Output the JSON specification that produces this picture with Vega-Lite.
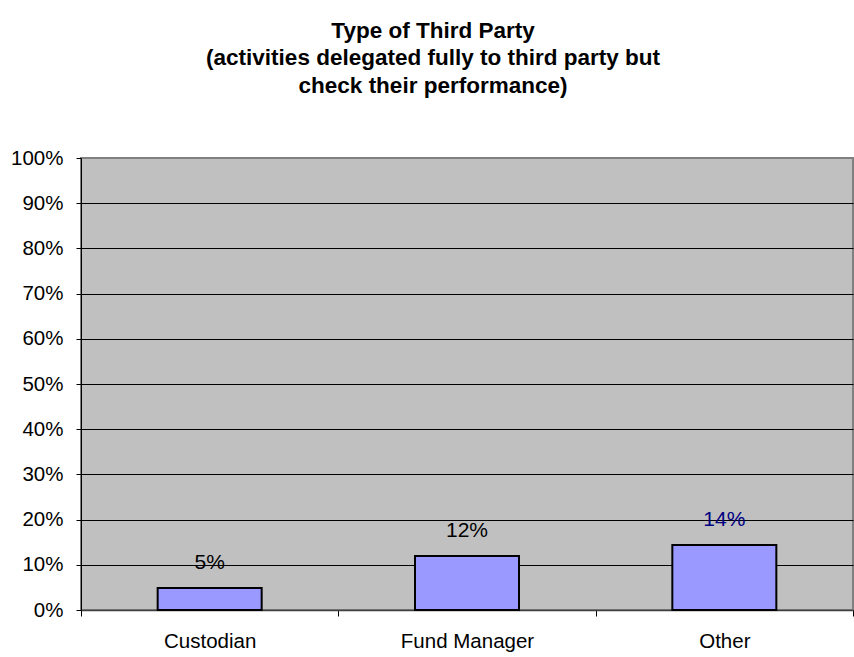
{
  "$schema": "https://vega.github.io/schema/vega-lite/v6.json",
  "autosize": "none",
  "width": 772,
  "height": 452,
  "padding": {"left": 81, "top": 158, "right": 1, "bottom": 47},
  "background": "#ffffff",
  "title": {
    "text": ["Type of Third Party", "(activities delegated fully to third party but", "check their performance)"],
    "font": "Liberation Sans",
    "fontSize": 22.5,
    "fontWeight": "bold",
    "color": "#000000",
    "anchor": "middle",
    "dx": -34,
    "offset": 51,
    "lineHeight": 27.5
  },
  "config": {
    "view": {"fill": "#C0C0C0", "stroke": "#808080", "strokeWidth": 2},
    "axis": {
      "labelFont": "Liberation Sans",
      "labelFontSize": 20.5,
      "labelColor": "#000000",
      "tickColor": "#000000",
      "domainColor": "#000000",
      "titleFont": "Liberation Sans"
    }
  },
  "data": {
    "values": [
      {"category": "Custodian", "value": 0.0487, "label": "5%", "labelColor": "black"},
      {"category": "Fund Manager", "value": 0.1195, "label": "12%", "labelColor": "black"},
      {"category": "Other", "value": 0.1438, "label": "14%", "labelColor": "navy"}
    ]
  },
  "encoding": {
    "x": {
      "field": "category",
      "type": "nominal",
      "sort": null,
      "scale": {"paddingInner": 0, "paddingOuter": 0},
      "axis": {
        "title": null,
        "labelAngle": 0,
        "tickBand": "extent",
        "tickSize": 6,
        "labelPadding": 15,
        "domainColor": "#404040",
        "domainWidth": 1.5
      }
    },
    "y": {
      "field": "value",
      "type": "quantitative",
      "scale": {"domain": [0, 1], "nice": false},
      "axis": {
        "title": null,
        "format": ".0%",
        "values": [0, 0.1, 0.2, 0.3, 0.4, 0.5, 0.6, 0.7, 0.8, 0.9, 1],
        "tickSize": 5,
        "labelPadding": 13,
        "grid": true,
        "gridColor": {"condition": {"test": "datum.value == 1 || datum.value == 0", "value": "#808080"}, "value": "#000000"},
        "gridOpacity": 1,
        "gridWidth": 1,
        "domainColor": "#000000",
        "domainWidth": 1
      }
    }
  },
  "layer": [
    {
      "mark": {"type": "bar", "size": 104, "fill": "#9999FF", "stroke": "#000000", "strokeWidth": 2}
    },
    {
      "mark": {"type": "text", "font": "Liberation Sans", "fontSize": 21, "baseline": "alphabetic", "dy": -19},
      "encoding": {
        "text": {"field": "label"},
        "color": {"field": "labelColor", "type": "nominal", "scale": {"domain": ["black", "navy"], "range": ["#000000", "#000080"]}, "legend": null}
      }
    }
  ]
}
